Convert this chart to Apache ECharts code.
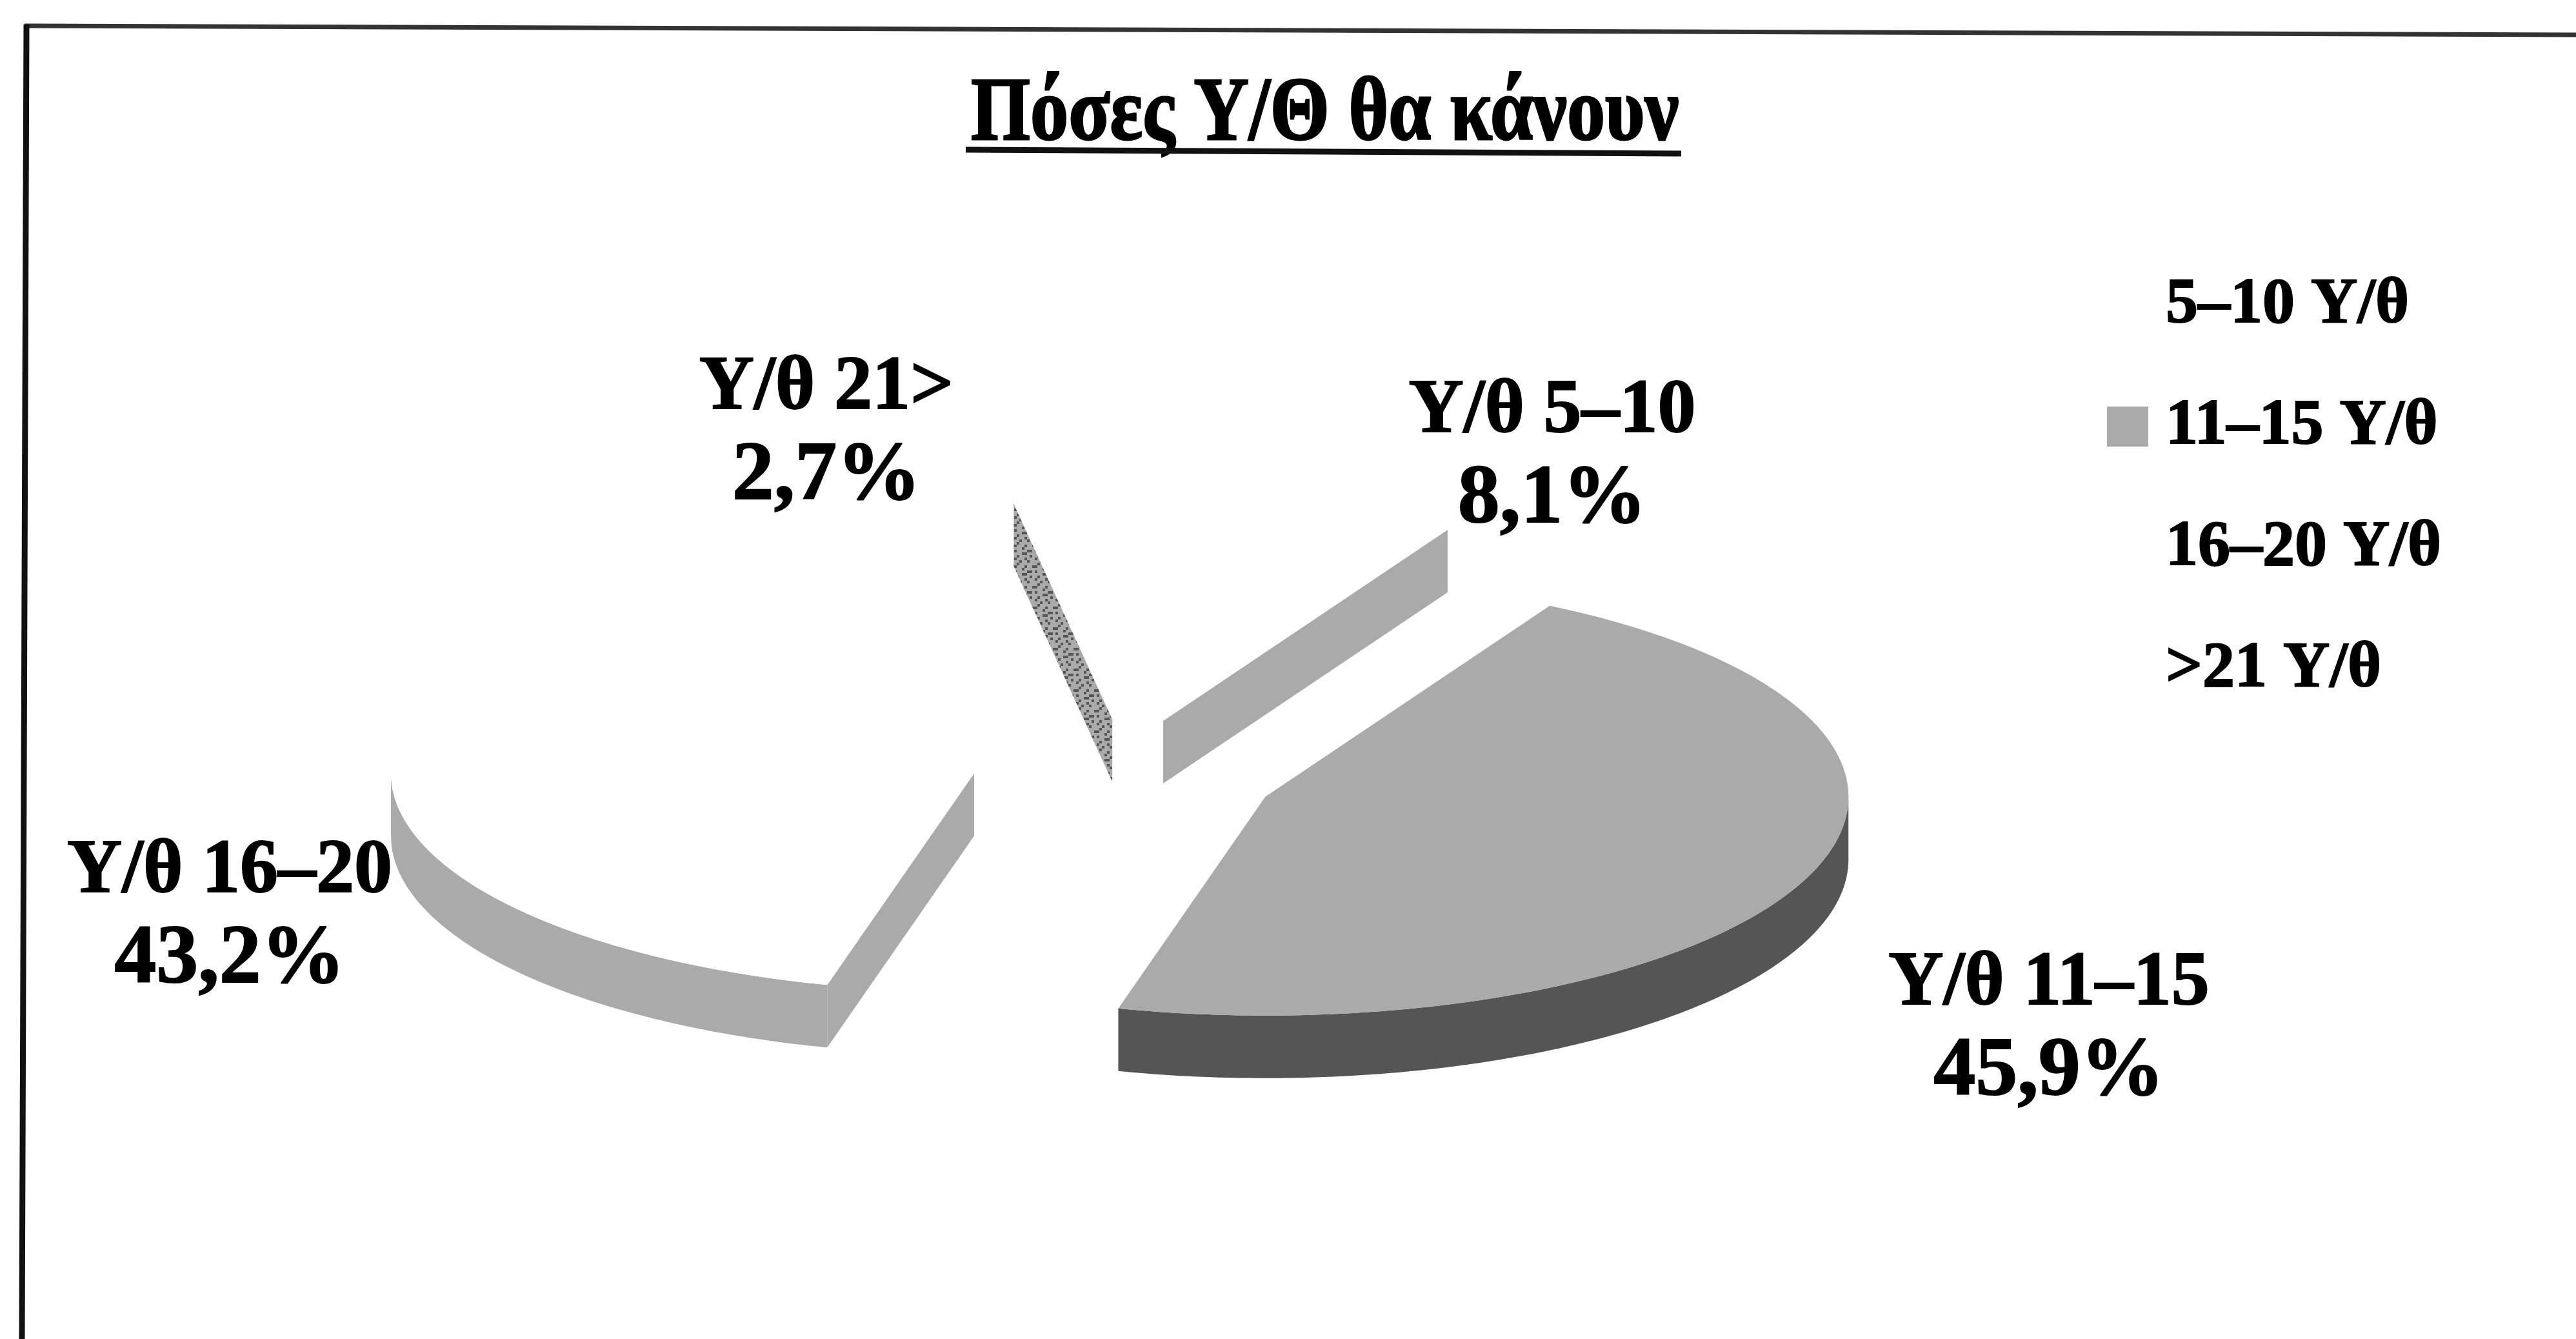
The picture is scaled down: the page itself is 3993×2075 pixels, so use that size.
<!DOCTYPE html>
<html lang="el">
<head>
<meta charset="utf-8">
<title>Πόσες Υ/Θ θα κάνουν</title>
<style>html,body{margin:0;padding:0;background:#fff}#chart{width:3993px;height:2075px}</style>
<script src="https://cdn.jsdelivr.net/npm/echarts@6/dist/echarts.min.js"></script>
</head>
<body>
<div id="chart"></div>
<script>
// Survey answers: share of respondents per range of teaching hours.
const sliceNames = ['Υ/θ 5–10', 'Υ/θ 11–15', 'Υ/θ 16–20', 'Υ/θ 21>'];
const legendNames = ['5–10 Υ/θ', '11–15 Υ/θ', '16–20 Υ/θ', '>21 Υ/θ'];
const sliceValues = [8.1, 45.9, 43.2, 2.7];
const chartTitle = 'Πόσες Υ/Θ θα κάνουν';

// Fill colours of each slice's top face and side walls.
const topColors = ['#ffffff', '#aaaaaa', '#ffffff', '#ffffff'];
const wallColors = ['#aaaaaa', '#555555', '#aaaaaa', 'speckle'];

// Projected pie geometry, in pixels.
const pie = { cx: 1744, cy: 1202, rx: 904, ry: 339, depth: 97, explode: 0.259 };

// Centre of each two-line slice label.
const labelAnchors = [[2406, 707], [3176, 1594], [356, 1420], [1281, 671]];

const SERIF = '"Liberation Serif", "DejaVu Serif", serif';
const total = sliceValues.reduce((a, b) => a + b, 0);

// Small repeating tile for the mottled grey of the thinnest slice's wall.
function speckleTile() {
  const rows = ['01000100', '00010010', '00100000', '11000100', '00001000', '01000011', '00001100', '00100001'];
  const cell = 4;
  const c = document.createElement('canvas');
  c.width = c.height = rows.length * cell;
  const g = c.getContext('2d');
  rows.forEach((r, y) => [...r].forEach((bit, x) => {
    g.fillStyle = bit === '1' ? '#555555' : '#aaaaaa';
    g.fillRect(x * cell, y * cell, cell, cell);
  }));
  return { image: c, repeat: 'repeat' };
}
const speckle = speckleTile();

// Point on the pie's rim; angle in degrees, clockwise from twelve o'clock.
function rim(apex, deg, drop) {
  const t = deg * Math.PI / 180;
  return [apex[0] + pie.rx * Math.sin(t), apex[1] - pie.ry * Math.cos(t) + drop];
}

function arcPoints(apex, from, to, drop) {
  const n = Math.max(2, Math.ceil(Math.abs(to - from)));
  const pts = [];
  for (let i = 0; i <= n; i++) pts.push(rim(apex, from + (to - from) * i / n, drop));
  return pts;
}

function polygon(points, fill) {
  return { type: 'polygon', shape: { points }, style: { fill, stroke: null } };
}

function renderSlice(index) {
  return function () {
    const before = sliceValues.slice(0, index).reduce((a, b) => a + b, 0);
    const start = before / total * 360;
    const end = (before + sliceValues[index]) / total * 360;
    const mid = (start + end) / 2 * Math.PI / 180;
    const apex = [
      pie.cx + pie.explode * pie.rx * Math.sin(mid),
      pie.cy - pie.explode * pie.ry * Math.cos(mid)
    ];
    const low = [apex[0], apex[1] + pie.depth];
    const wall = wallColors[index] === 'speckle' ? speckle : wallColors[index];
    const children = [];

    // Cut faces turned towards the viewer.
    if (Math.sin(start * Math.PI / 180) < 0) {
      children.push(polygon([apex, rim(apex, start, 0), rim(apex, start, pie.depth), low], wall));
    }
    if (Math.sin(end * Math.PI / 180) > 0) {
      children.push(polygon([apex, rim(apex, end, 0), rim(apex, end, pie.depth), low], wall));
    }
    // Front part of the rim wall.
    const wallFrom = Math.max(start, 90);
    const wallTo = Math.min(end, 270);
    if (wallTo > wallFrom) {
      children.push(polygon(
        arcPoints(apex, wallFrom, wallTo, 0).concat(arcPoints(apex, wallTo, wallFrom, pie.depth)),
        wall
      ));
    }
    // Top face.
    children.push(polygon([apex].concat(arcPoints(apex, start, end, 0)), topColors[index]));
    // Two-line label stating the slice's name and share.
    const share = sliceValues[index].toFixed(1).replace('.', ',') + '%';
    children.push({
      type: 'text',
      z2: 10,
      style: {
        x: labelAnchors[index][0],
        y: labelAnchors[index][1],
        text: '{n|' + sliceNames[index] + '}\n{p|' + share + '}',
        rich: {
          n: { font: 'bold 118px ' + SERIF, lineHeight: 137, fill: '#000', stroke: '#000', lineWidth: 2 },
          p: { font: 'bold 130px ' + SERIF, lineHeight: 137, fill: '#000', stroke: '#000', lineWidth: 2 }
        },
        align: 'center',
        verticalAlign: 'middle'
      }
    });
    return { type: 'group', children };
  };
}

const chart = echarts.init(document.getElementById('chart'), null, { renderer: 'canvas' });
chart.setOption({
  animation: false,
  backgroundColor: '#ffffff',
  legend: {
    orient: 'vertical',
    left: 3261,
    top: 417,
    icon: 'rect',
    itemWidth: 64,
    itemHeight: 62,
    itemGap: 86,
    selectedMode: false,
    textStyle: {
      fontFamily: SERIF, fontWeight: 'bold', fontSize: 100, lineHeight: 102, color: '#000',
      textBorderColor: '#000', textBorderWidth: 2, padding: [0, 0, 0, 22]
    },
    data: legendNames
  },
  graphic: [
    // Chart frame: only the top and left rules exist.
    { type: 'line', shape: { x1: 38, y1: 40, x2: 3993, y2: 54 }, style: { stroke: '#333', lineWidth: 7 } },
    { type: 'line', shape: { x1: 41, y1: 38, x2: 34, y2: 2075 }, style: { stroke: '#111', lineWidth: 9 } },
    // Title, condensed, with its underline.
    {
      type: 'text', x: 1505, y: 180, scaleX: 0.845,
      style: { text: chartTitle, font: 'bold 140px ' + SERIF, fill: '#000', stroke: '#000', lineWidth: 3, verticalAlign: 'middle', align: 'left' }
    },
    { type: 'line', shape: { x1: 1497, y1: 232, x2: 2606, y2: 238 }, style: { stroke: '#111', lineWidth: 9 } }
  ],
  series: sliceValues.map((v, i) => ({
    type: 'custom',
    name: legendNames[i],
    coordinateSystem: 'none',
    itemStyle: { color: topColors[i] },
    renderItem: renderSlice(i),
    data: [v],
    silent: true,
    clip: false
  }))
});
</script>
</body>
</html>
